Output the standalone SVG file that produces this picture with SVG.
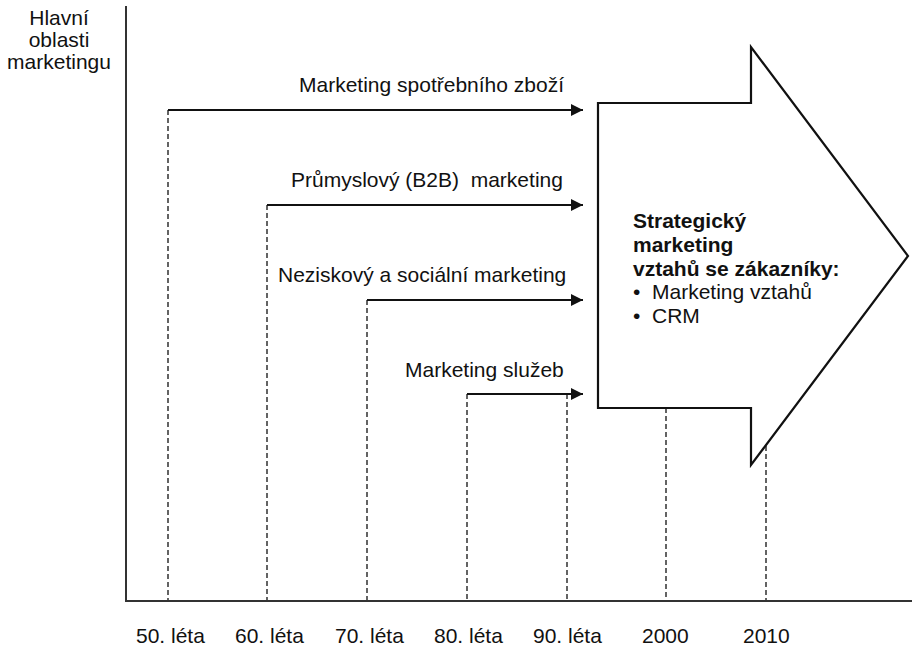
<svg xmlns="http://www.w3.org/2000/svg" width="912" height="647" viewBox="0 0 912 647">
  <style>
    .t { font-family: "Liberation Sans", Arial, sans-serif; font-size: 21px; fill: #111; }
    .b { font-weight: bold; }
    .axis { stroke: #333; stroke-width: 2; fill: none; }
    .dash { stroke: #222; stroke-width: 1.4; stroke-dasharray: 5 3; fill: none; }
    .arr { stroke: #111; stroke-width: 1.8; fill: none; marker-end: url(#ah); }
    .big { stroke: #111; stroke-width: 2.2; fill: #fff; stroke-linejoin: miter; }
  </style>
  <defs>
    <marker id="ah" markerUnits="userSpaceOnUse" markerWidth="13" markerHeight="13" refX="12" refY="6" orient="auto">
      <path d="M0,0 L12,6 L0,12 Z" fill="#111"/>
    </marker>
  </defs>
  <rect width="912" height="647" fill="#fff"/>

  <g id="axes">
    <line class="axis" x1="126" y1="6" x2="126" y2="601"/>
    <line class="axis" x1="125" y1="601" x2="912" y2="601"/>
  </g>

  <g id="axis-title">
    <text class="t" x="59" y="25" text-anchor="middle">Hlavní</text>
    <text class="t" x="59" y="47" text-anchor="middle">oblasti</text>
    <text class="t" x="59" y="69" text-anchor="middle">marketingu</text>
  </g>

  <g id="connectors">
    <line class="dash" x1="168" y1="110" x2="168" y2="600"/>
    <line class="dash" x1="267" y1="205" x2="267" y2="600"/>
    <line class="dash" x1="367" y1="300" x2="367" y2="600"/>
    <line class="dash" x1="467" y1="394" x2="467" y2="600"/>
    <line class="dash" x1="567" y1="394" x2="567" y2="600"/>
    <line class="dash" x1="666" y1="400" x2="666" y2="600"/>
    <line class="dash" x1="766" y1="430" x2="766" y2="600"/>
    <path class="arr" d="M168,110 H583"/>
    <path class="arr" d="M267,205 H583"/>
    <path class="arr" d="M367,300 H583"/>
    <path class="arr" d="M467,394 H583"/>
  </g>

  <g id="label-spotrebni">
    <text class="t" x="299" y="92">Marketing spotřebního zboží</text>
  </g>
  <g id="label-prumyslovy">
    <text class="t" x="291" y="187" xml:space="preserve">Průmyslový (B2B)  marketing</text>
  </g>
  <g id="label-neziskovy">
    <text class="t" x="278" y="282">Neziskový a sociální marketing</text>
  </g>
  <g id="label-sluzby">
    <text class="t" x="405" y="377">Marketing služeb</text>
  </g>

  <g id="big-arrow">
    <polygon class="big" points="598,103 751,103 751,47 908,256 751,465 751,408 598,408"/>
    <text class="t b" x="633" y="228">Strategický</text>
    <text class="t b" x="633" y="252">marketing</text>
    <text class="t b" x="633" y="276">vztahů se zákazníky:</text>
    <text class="t" x="633" y="299">•<tspan x="652">Marketing vztahů</tspan></text>
    <text class="t" x="633" y="323">•<tspan x="652">CRM</tspan></text>
  </g>

  <g id="x-labels">
    <text class="t" x="136" y="643">50. léta</text>
    <text class="t" x="235" y="643">60. léta</text>
    <text class="t" x="335" y="643">70. léta</text>
    <text class="t" x="434" y="643">80. léta</text>
    <text class="t" x="533" y="643">90. léta</text>
    <text class="t" x="642" y="643">2000</text>
    <text class="t" x="743" y="643">2010</text>
  </g>
</svg>
